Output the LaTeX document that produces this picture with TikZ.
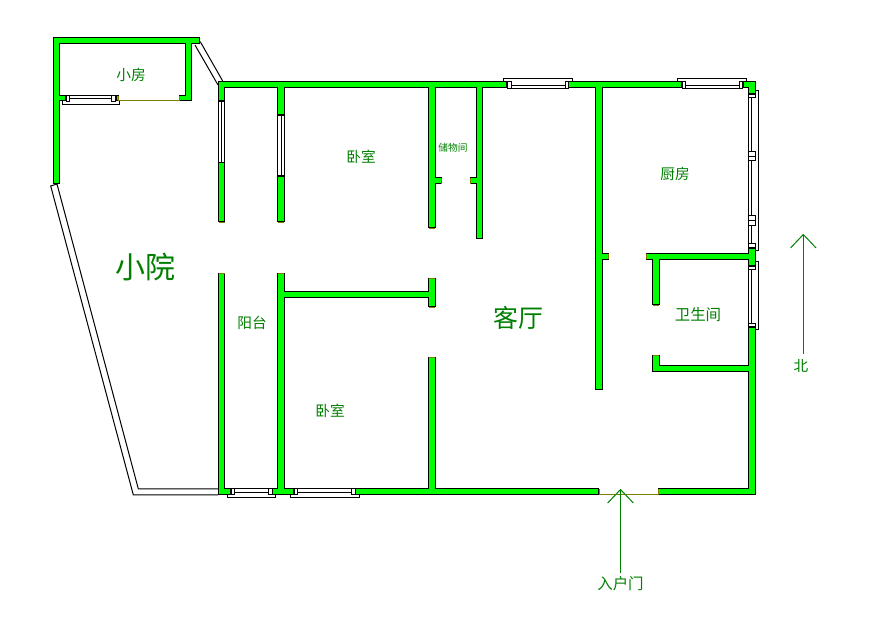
\documentclass[tikz,border=0pt]{standalone}
\usepackage{fontspec}
\usetikzlibrary{arrows.meta}
\newfontfamily\cjk{Noto Sans CJK SC}
\definecolor{wallgreen}{HTML}{00FF00}
\definecolor{textgreen}{HTML}{008000}
\definecolor{dooredge}{HTML}{808000}
\def\walllist{53.3/37.3/200.3/44.3, 53.3/37.3/60.3/184.3, 184.7/37.3/191.7/101.3, 179.3/95/191.7/101.3,
53.3/95/66/101.3, 115.5/95/118.7/101.3,
218.3/81.3/507.3/88.3, 568.3/81.3/682.3/88.3, 742.7/81.3/755.7/88.3, 748.3/81.3/755.7/94.3,
218.3/81.3/225.3/101.3, 218.3/162.3/225.3/222.3, 277.3/81.3/284.7/115, 277.3/175.7/284.7/222.3,
428.3/81.3/435.7/228.3, 428.3/177/441.7/184.3, 476.3/81.3/482.7/239.3, 470/177/482.7/184.3,
595.3/81.3/602.7/389.7, 595.3/253/608.7/259.5, 646.3/253.3/755.7/259.7, 748.3/247.7/755.7/265.7,
652.3/253.3/659.7/305.3, 652.3/355.3/659.7/372.3, 652.3/365.3/755.7/372.3, 748.3/326.7/755.7/495.3,
658.3/488.3/755.7/495.3, 218.3/273/225.3/495.3, 277.3/273/284.7/495.3, 280/291.3/435.7/298.3,
428.3/278.3/435.7/307.3, 428.3/357/435.7/495.3, 355/488.3/599.3/495.3, 218.3/488.3/231.3/495.3,
272/488.3/294.3/495.3}
% jambs a-b and c-d, box e-f; inner, attachment and box lines (middle line in \ymid)
\newcommand\hwindow[9]{%
  \draw[thinline] (#5,#8)--(#5,#9)--(#6,#9)--(#6,#8);
  \draw[thinline] (#2,#7)--(#3,#7);
  \draw[thinline] (#2,\ymid)--(#3,\ymid);
  \draw[thinline,fill=white] (#1,#7) rectangle (#2,#8);
  \draw[thinline,fill=white] (#3,#7) rectangle (#4,#8);
}
\newcommand\vjamb[2]{\draw[thinline,fill=white] (748.3,#1) rectangle (755.2,#2);}
\tikzset{
  thinline/.style={draw=black,line width=0.75pt},
  wallstroke/.style={draw=black,line width=1.5pt},
  wallfill/.style={fill=wallgreen},
  doorend/.style={draw=dooredge,line width=0.75pt},
  roomlabel/.style={text=textgreen,inner sep=0pt,font=\cjk\fontsize{11pt}{13pt}\selectfont},
  widelabel/.style={roomlabel,font=\cjk\fontsize{11.6pt}{14pt}\selectfont},
  pointer/.style={draw=textgreen,line width=0.75pt,-{Straight Barb[length=10pt,width=19pt,round=false]}}
}
\begin{document}
\begin{tikzpicture}[x=0.75pt,y=-0.75pt]
\useasboundingbox[fill=white] (0,0) rectangle (870,629);
% walls: strokes first, then fills so that joins stay open
\foreach \a/\b/\c/\d in \walllist {\path[wallstroke] (\a+1,\b+1) rectangle (\c-1,\d-1);}
\foreach \a/\b/\c/\d in \walllist {\path[wallfill] (\a+1,\b+1) rectangle (\c-1,\d-1);}
% outer courtyard wall
\draw[thinline] (218.3,488.8)--(138.3,488.8)--(57,184) (218.3,494.8)--(133.3,494.8)--(50.7,186)--(57,184);
% link between small room and main block
\draw[thinline] (200.3,41.7)--(222.7,81) (195,45)--(218,85);
% wall ends and open doors
\foreach \p/\q/\r/\s in {218.8/222/224.8/222, 277.8/222/284.2/222, 428.8/228/435.2/228,
  441.4/177.5/441.4/183.8, 470.3/177.5/470.3/183.8, 218.8/273.3/224.8/273.3, 277.8/273.3/284.2/273.3,
  428.8/278.6/435.2/278.6, 428.8/307/435.2/307, 428.8/357.3/435.2/357.3, 608.4/253.5/608.4/259,
  646.6/253.8/646.6/259.2, 652.8/305/659.2/305, 652.8/355.6/659.2/355.6, 179.6/95.5/179.6/100.8,
  118.4/95.5/118.4/100.8, 118.4/100.8/179.6/100.8, 599/488.8/599/494.8, 658.6/488.8/658.6/494.8, 599/494.8/658.6/494.8}
  {\draw[doorend] (\p,\q)--(\r,\s);}
% horizontal windows
\def\ymid{98.5}
\hwindow{66}{69.7}{111.3}{115.5}{62.5}{119.2}{95.5}{101}{104.8}
\def\ymid{85.5}
\hwindow{507.3}{511.7}{565}{568.3}{503.8}{572.2}{88}{81.8}{78.8}
\hwindow{682.3}{685.7}{739.3}{742.7}{677.8}{746.2}{88}{81.8}{78.8}
\def\ymid{492.5}
\hwindow{231.3}{234.7}{268.3}{272}{227.8}{275.2}{488.8}{494.8}{497.8}
\hwindow{294.3}{297.7}{351.3}{355}{290.8}{359.2}{488.8}{494.8}{497.8}
% side-wall windows
\draw[thinline,fill=white] (218.8,101.3) rectangle (224.8,162.3);
\draw[thinline] (221.8,101.3)--(221.8,162.3);
\draw[thinline,fill=white] (277.8,115) rectangle (284.2,175.7);
\draw[thinline] (281,115)--(281,175.7);
% east windows
\draw[thinline] (755.7,90.8)--(758.2,90.8)--(758.2,250.8)--(755.7,250.8);
\draw[thinline] (755.7,261.8)--(758.2,261.8)--(758.2,329.8)--(755.7,329.8);
\draw[thinline] (748.8,94)--(748.8,248) (751.8,94)--(751.8,248);
\draw[thinline] (748.8,265)--(748.8,327) (751.8,265)--(751.8,327);
\vjamb{94.3}{97.3}
\vjamb{151.8}{156.3}
\vjamb{156.3}{160.8}
\vjamb{215.8}{220.3}
\vjamb{220.3}{225.2}
\vjamb{243.6}{247.4}
\vjamb{266}{269.4}
\vjamb{323.6}{326.7}
% labels
\node[roomlabel] (smallroom) at (131,75) {小房};
\node[roomlabel] (bedroomn) at (361,157) {卧室};
\node[roomlabel,font=\cjk\fontsize{7.3pt}{9pt}\selectfont] (storage) at (453,148) {储物间};
\node[roomlabel] (kitchen) at (675,174) {厨房};
\node[roomlabel,font=\cjk\fontsize{22.5pt}{26pt}\selectfont] (yard) at (145,267) {小院};
\node[roomlabel] (balcony) at (252,323) {阳台};
\node[roomlabel,font=\cjk\fontsize{18.7pt}{22pt}\selectfont] (living) at (518,318) {客厅};
\node[widelabel] (bath) at (698,315) {卫生间};
\node[roomlabel] (bedrooms) at (330,411) {卧室};
\node[widelabel] (entry) at (620.5,584) {入户门};
\node[roomlabel] (north) at (801,366) {北};
% arrows
\coordinate (entrytip) at (620.5,489);
\coordinate (entrytail) at (620.5,573);
\coordinate (northtip) at (803.3,234);
\coordinate (northtail) at (803.3,353.5);
\draw[pointer] (entrytail) -- (entrytip);
\draw[pointer] (northtail) -- (northtip);
\end{tikzpicture}
\end{document}
